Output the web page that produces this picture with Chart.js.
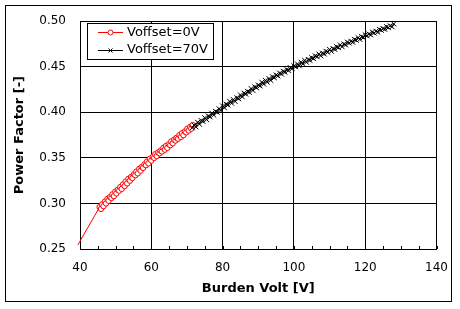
<!DOCTYPE html>
<html>
<head>
<meta charset="utf-8">
<script src="https://cdn.jsdelivr.net/npm/chart.js@4.4.1/dist/chart.umd.min.js"></script>
<style>
  html, body { margin: 0; padding: 0; background: #fff; }
  #wrap { width: 460px; height: 309px; }
</style>
</head>
<body>
<div id="wrap"><canvas id="pfChart" width="460" height="309"></canvas></div>
<script>
  const volt0 = [39.4, 45.5, 45.9, 46.2, 46.6, 47.0, 47.3, 47.7, 48.0, 48.4, 48.8, 49.1, 49.5, 49.9, 50.2, 50.6, 51.0, 51.3, 51.7, 52.1, 52.5, 52.8, 53.2, 53.6, 54.0, 54.3, 54.7, 55.1, 55.5, 55.8, 56.2, 56.6, 57.0, 57.3, 57.7, 58.1, 58.5, 58.8, 59.2, 59.6, 60.0, 60.4, 60.8, 61.1, 61.5, 61.9, 62.3, 62.6, 63.0, 63.4, 63.8, 64.1, 64.5, 64.9, 65.3, 65.6, 66.0, 66.4, 66.8, 67.1, 67.5, 67.9, 68.3, 68.6, 69.0, 69.4, 69.8, 70.1, 70.5, 70.9, 71.2, 71.6];
  const pf0 = [0.2545, 0.296, 0.294, 0.299, 0.297, 0.302, 0.300, 0.305, 0.303, 0.307, 0.306, 0.310, 0.308, 0.313, 0.311, 0.315, 0.314, 0.318, 0.316, 0.321, 0.319, 0.324, 0.322, 0.327, 0.325, 0.329, 0.328, 0.332, 0.331, 0.335, 0.333, 0.338, 0.336, 0.340, 0.339, 0.343, 0.342, 0.346, 0.344, 0.349, 0.347, 0.351, 0.350, 0.354, 0.352, 0.356, 0.355, 0.358, 0.357, 0.361, 0.359, 0.363, 0.361, 0.365, 0.364, 0.368, 0.366, 0.370, 0.369, 0.372, 0.371, 0.375, 0.373, 0.377, 0.375, 0.379, 0.378, 0.382, 0.380, 0.384, 0.382, 0.386];
  const volt70 = [71.5, 72.0, 72.5, 73.0, 73.5, 74.0, 74.5, 75.0, 75.5, 76.0, 76.5, 77.0, 77.5, 78.0, 78.5, 79.0, 79.5, 80.0, 80.5, 81.0, 81.5, 82.0, 82.5, 83.0, 83.5, 84.0, 84.5, 85.0, 85.5, 86.0, 86.5, 87.0, 87.5, 88.0, 88.5, 89.0, 89.5, 90.0, 90.5, 91.0, 91.5, 92.0, 92.5, 93.0, 93.5, 94.0, 94.5, 95.0, 95.5, 96.0, 96.5, 97.0, 97.5, 98.0, 98.5, 99.0, 99.5, 100.0, 100.5, 101.0, 101.5, 102.0, 102.5, 103.0, 103.5, 104.0, 104.5, 105.0, 105.5, 106.0, 106.5, 107.0, 107.5, 108.0, 108.5, 109.0, 109.5, 110.0, 110.5, 111.0, 111.5, 112.0, 112.5, 113.0, 113.5, 114.0, 114.5, 115.0, 115.5, 116.0, 116.5, 117.0, 117.5, 118.0, 118.5, 119.0, 119.5, 120.0, 120.5, 121.0, 121.5, 122.0, 122.5, 123.0, 123.5, 124.0, 124.5, 125.0, 125.5, 126.0, 126.5, 127.0, 127.5, 128.0];
  const pf70 = [0.383, 0.386, 0.384, 0.389, 0.387, 0.391, 0.390, 0.394, 0.392, 0.396, 0.395, 0.399, 0.397, 0.401, 0.400, 0.404, 0.402, 0.407, 0.405, 0.409, 0.408, 0.412, 0.410, 0.414, 0.412, 0.416, 0.415, 0.419, 0.417, 0.421, 0.420, 0.423, 0.422, 0.426, 0.424, 0.428, 0.427, 0.430, 0.429, 0.433, 0.431, 0.435, 0.433, 0.437, 0.435, 0.439, 0.438, 0.441, 0.440, 0.443, 0.442, 0.445, 0.444, 0.447, 0.446, 0.449, 0.448, 0.451, 0.450, 0.453, 0.451, 0.455, 0.453, 0.457, 0.455, 0.458, 0.457, 0.460, 0.459, 0.462, 0.461, 0.464, 0.462, 0.465, 0.464, 0.467, 0.466, 0.469, 0.467, 0.470, 0.469, 0.472, 0.471, 0.474, 0.472, 0.475, 0.474, 0.477, 0.476, 0.478, 0.477, 0.480, 0.479, 0.482, 0.480, 0.483, 0.482, 0.485, 0.484, 0.486, 0.485, 0.488, 0.487, 0.489, 0.488, 0.491, 0.490, 0.492, 0.491, 0.494, 0.493, 0.495, 0.494, 0.497];
  const seriesNames = ['Voffset=0V', 'Voffset=70V'];
  const xTicks = [40, 60, 80, 100, 120, 140];
  const yTicks = [0.25, 0.30, 0.35, 0.40, 0.45, 0.50];

  const FONT = "'DejaVu Sans', sans-serif";

  function toPoints(xs, ys) {
    return xs.map((x, i) => ({ x: x, y: ys[i] }));
  }

  // frame, minor ticks and the boxed legend
  const extras = {
    id: 'extras',
    beforeDraw(chart) {
      const c = chart.ctx;
      c.save();
      c.fillStyle = '#fff';
      c.fillRect(0, 0, chart.width, chart.height);
      c.restore();
    },
    afterDraw(chart) {
      const c = chart.ctx;
      const xs = chart.scales.x;
      const area = chart.chartArea;
      c.save();
      c.strokeStyle = '#000';
      c.lineWidth = 1;
      c.strokeRect(5.5, 5.5, 446, 296);
      // minor ticks pointing inward on the x axis
      c.beginPath();
      for (let v = xs.min; v <= xs.max; v += 5) {
        const px = Math.round(xs.getPixelForValue(v)) + 0.5;
        c.moveTo(px, area.bottom);
        c.lineTo(px, area.bottom - 3);
      }
      c.stroke();
      // legend
      const lx = 87, ly = 23;
      c.fillStyle = '#fff';
      c.fillRect(lx, ly, 126, 36);
      c.strokeRect(lx + 0.5, ly + 0.5, 126, 36);
      const rows = [
        { name: seriesNames[0], color: '#ff0000', y: ly + 9 },
        { name: seriesNames[1], color: '#000000', y: ly + 26.5 }
      ];
      rows.forEach((r, i) => {
        c.strokeStyle = r.color;
        c.beginPath();
        c.moveTo(lx + 11, Math.round(r.y) + 0.5);
        c.lineTo(lx + 36, Math.round(r.y) + 0.5);
        c.stroke();
        const mx = lx + 23.5, my = Math.round(r.y) + 0.5;
        if (i === 0) {
          c.fillStyle = '#fff';
          c.beginPath();
          c.arc(mx, my, 2.5, 0, Math.PI * 2);
          c.fill();
          c.stroke();
        } else {
          c.beginPath();
          c.moveTo(mx - 2, my - 2); c.lineTo(mx + 2, my + 2);
          c.moveTo(mx - 2, my + 2); c.lineTo(mx + 2, my - 2);
          c.stroke();
        }
        c.fillStyle = '#000';
        c.font = '13px ' + FONT;
        c.textBaseline = 'middle';
        c.textAlign = 'left';
        c.fillText(r.name, lx + 40, r.y + 0.5);
      });
      c.restore();
    }
  };

  const ctx = document.getElementById('pfChart');
  const pfChart = new Chart(ctx, {
    type: 'scatter',
    data: {
      datasets: [{
        label: seriesNames[0],
        data: toPoints(volt0, pf0),
        showLine: true,
        borderColor: '#ff0000',
        borderWidth: 1,
        backgroundColor: '#ffffff',
        pointBorderColor: '#ff0000',
        pointBorderWidth: 1,
        pointStyle: 'circle',
        pointRadius: (c) => c.dataIndex === 0 ? 0 : 2.7,
        clip: false,
        order: 2
      }, {
        label: seriesNames[1],
        data: toPoints(volt70, pf70),
        showLine: true,
        borderColor: '#000000',
        borderWidth: 1,
        backgroundColor: '#000000',
        pointBorderColor: '#000000',
        pointBorderWidth: 1,
        pointStyle: 'crossRot',
        pointRadius: 3.5,
        order: 1
      }]
    },
    options: {
      responsive: false,
      animation: false,
      devicePixelRatio: 1,
      layout: { padding: { left: 0, top: 16, right: 21, bottom: 0 } },
      plugins: {
        legend: { display: false },
        tooltip: { enabled: false }
      },
      scales: {
        x: {
          type: 'linear',
          min: 40,
          max: 140,
          afterBuildTicks: (s) => { s.ticks = xTicks.map(v => ({ value: v })); },
          afterFit: (s) => { s.height = 60; },
          ticks: { color: '#000', font: { family: FONT, size: 12 }, padding: 12, maxRotation: 0 },
          grid: { color: '#000', lineWidth: 1, drawTicks: false },
          border: { color: '#000', width: 1 },
          title: { display: true, text: 'Burden Volt [V]', color: '#000', font: { family: FONT, size: 13, weight: 'bold' }, padding: { top: 0, bottom: 13 } }
        },
        y: {
          type: 'linear',
          min: 0.25,
          max: 0.5,
          afterBuildTicks: (s) => { s.ticks = yTicks.map(v => ({ value: v })); },
          afterFit: (s) => { s.width = 80; },
          ticks: { color: '#000', font: { family: FONT, size: 12 }, padding: 14, callback: (v) => v.toFixed(2) },
          grid: { color: '#000', lineWidth: 1, drawTicks: false },
          border: { color: '#000', width: 1 },
          title: { display: true, text: 'Power Factor [-]', color: '#000', font: { family: FONT, size: 13, weight: 'bold' }, padding: { top: 12, bottom: 0 } }
        }
      }
    },
    plugins: [extras]
  });
</script>
</body>
</html>
